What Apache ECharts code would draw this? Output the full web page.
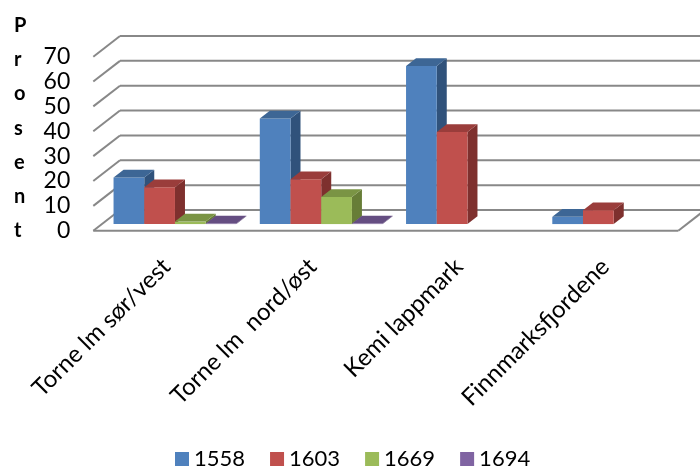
<!DOCTYPE html>
<html>
<head>
<meta charset="utf-8">
<script src="https://cdn.jsdelivr.net/npm/echarts@6/dist/echarts.min.js"></script>
<style>
  html, body { margin: 0; padding: 0; background: #fff; }
  #chart { width: 700px; height: 470px; }
</style>
</head>
<body>
<div id="chart"></div>
<script>
// Areas and survey years
const categories = ['Torne lm sør/vest', 'Torne lm  nord/øst', 'Kemi lappmark', 'Finnmarksfjordene'];
const years = ['1558', '1603', '1669', '1694'];

// Share (prosent) per area, one array per year
const v1558 = [18.7, 42.5, 63.6, 2.9];
const v1603 = [14.8, 18.0, 37.0, 5.6];
const v1669 = [1.0, 10.9, null, null];
const v1694 = [0.2, 0.2, null, null];

const yTicks = [0, 10, 20, 30, 40, 50, 60, 70];

// Face colours: front, top, side
const frontColors = ['#4F81BD', '#C0504D', '#9BBB59', '#8064A2'];
const topColors   = ['#3D6695', '#9A3D3B', '#7A9444', '#654E82'];
const sideColors  = ['#30527B', '#7E302E', '#677D37', '#553F6F'];

// Oblique projection: depth of the floor/back wall and of each bar
const DEPTH_DX = 26.7, DEPTH_DY = 20.7;
const PLANE_T = 0.32;                 // bars stand this far into the floor
const BAR_DX = 10, BAR_DY = 7.75;     // bar thickness in depth
const BAR_FRAC = 0.21;                // bar width as share of category band

const seriesValues = [v1558, v1603, v1669, v1694];
const lineColor = '#888888';

function wallRenderer(params, api) {
  const cs = params.coordSys;
  const left = cs.x, right = cs.x + cs.width;
  const children = [];
  const st = { stroke: lineColor, lineWidth: 2 };
  yTicks.forEach(function (v) {
    const y = api.coord([0, v])[1];
    children.push({ type: 'line', shape: { x1: left, y1: y, x2: left + DEPTH_DX, y2: y - DEPTH_DY }, style: st });
    children.push({ type: 'line', shape: { x1: left + DEPTH_DX, y1: y - DEPTH_DY, x2: right + DEPTH_DX + 40, y2: y - DEPTH_DY }, style: st });
  });
  const y0 = api.coord([0, 0])[1];
  children.push({ type: 'line', shape: { x1: left, y1: y0, x2: right, y2: y0 }, style: st });
  children.push({ type: 'line', shape: { x1: right, y1: y0, x2: right + DEPTH_DX, y2: y0 - DEPTH_DY }, style: st });
  return { type: 'group', children: children };
}

function barRenderer(idx) {
  return function (params, api) {
    const cat = api.value(0), val = api.value(1);
    if (val == null || isNaN(val)) return;
    const base = api.coord([cat, 0]);
    const top = api.coord([cat, val]);
    const band = api.size([1, 0])[0];
    const w = band * BAR_FRAC;
    const pdx = DEPTH_DX * PLANE_T, pdy = DEPTH_DY * PLANE_T;
    const x0 = base[0] + pdx - 2 * w + idx * w;
    const yb = base[1] - pdy, yt = top[1] - pdy;
    return {
      type: 'group',
      children: [
        { type: 'polygon', shape: { points: [[x0 + w, yt], [x0 + w + BAR_DX, yt - BAR_DY], [x0 + w + BAR_DX, yb - BAR_DY], [x0 + w, yb]] },
          style: { fill: sideColors[idx] } },
        { type: 'rect', shape: { x: x0, y: yt, width: w, height: yb - yt }, style: { fill: frontColors[idx] } },
        { type: 'polygon', shape: { points: [[x0, yt], [x0 + w, yt], [x0 + w + BAR_DX, yt - BAR_DY], [x0 + BAR_DX, yt - BAR_DY]] },
          style: { fill: topColors[idx] } }
      ]
    };
  };
}

const barSeries = years.map(function (yr, i) {
  const data = [];
  seriesValues[i].forEach(function (v, c) { if (v != null) data.push([c, v]); });
  return {
    name: yr,
    type: 'custom',
    renderItem: barRenderer(i),
    encode: { x: 0, y: 1 },
    itemStyle: { color: frontColors[i] },
    data: data,
    z: 3
  };
});

const chart = echarts.init(document.getElementById('chart'), null, { renderer: 'canvas' });
chart.setOption({
  animation: false,
  textStyle: { fontFamily: 'Lato' },
  grid: { left: 93.3, top: 56.7, width: 585, height: 174 },
  xAxis: {
    type: 'category',
    data: categories,
    axisLine: { show: false },
    axisTick: { show: false },
    axisLabel: { interval: 0, rotate: 45, margin: 32, color: '#000', fontSize: 24, fontFamily: 'Lato' }
  },
  yAxis: {
    type: 'value',
    min: 0, max: 70, interval: 10,
    axisLine: { show: false },
    axisTick: { show: false },
    splitLine: { show: false },
    axisLabel: { margin: 23, color: '#000', fontSize: 23, fontFamily: 'Lato' }
  },
  legend: {
    data: years.map(function (y) { return { name: y, icon: 'rect' }; }),
    left: 170, top: 443,
    itemWidth: 14, itemHeight: 14, itemGap: 25,
    textStyle: { fontSize: 22, color: '#000', fontFamily: 'Lato' }
  },
  graphic: [{
    type: 'text',
    left: 14, top: 8,
    style: { text: 'P\nr\no\ns\ne\nn\nt', font: 'bold 20px Lato', fill: '#000', align: 'center', lineHeight: 34.3 }
  }],
  series: [{
    name: 'walls',
    type: 'custom',
    renderItem: wallRenderer,
    encode: { x: 0, y: 1 },
    data: [[0, 0]],
    silent: true,
    z: 1
  }].concat(barSeries)
});
</script>
</body>
</html>
